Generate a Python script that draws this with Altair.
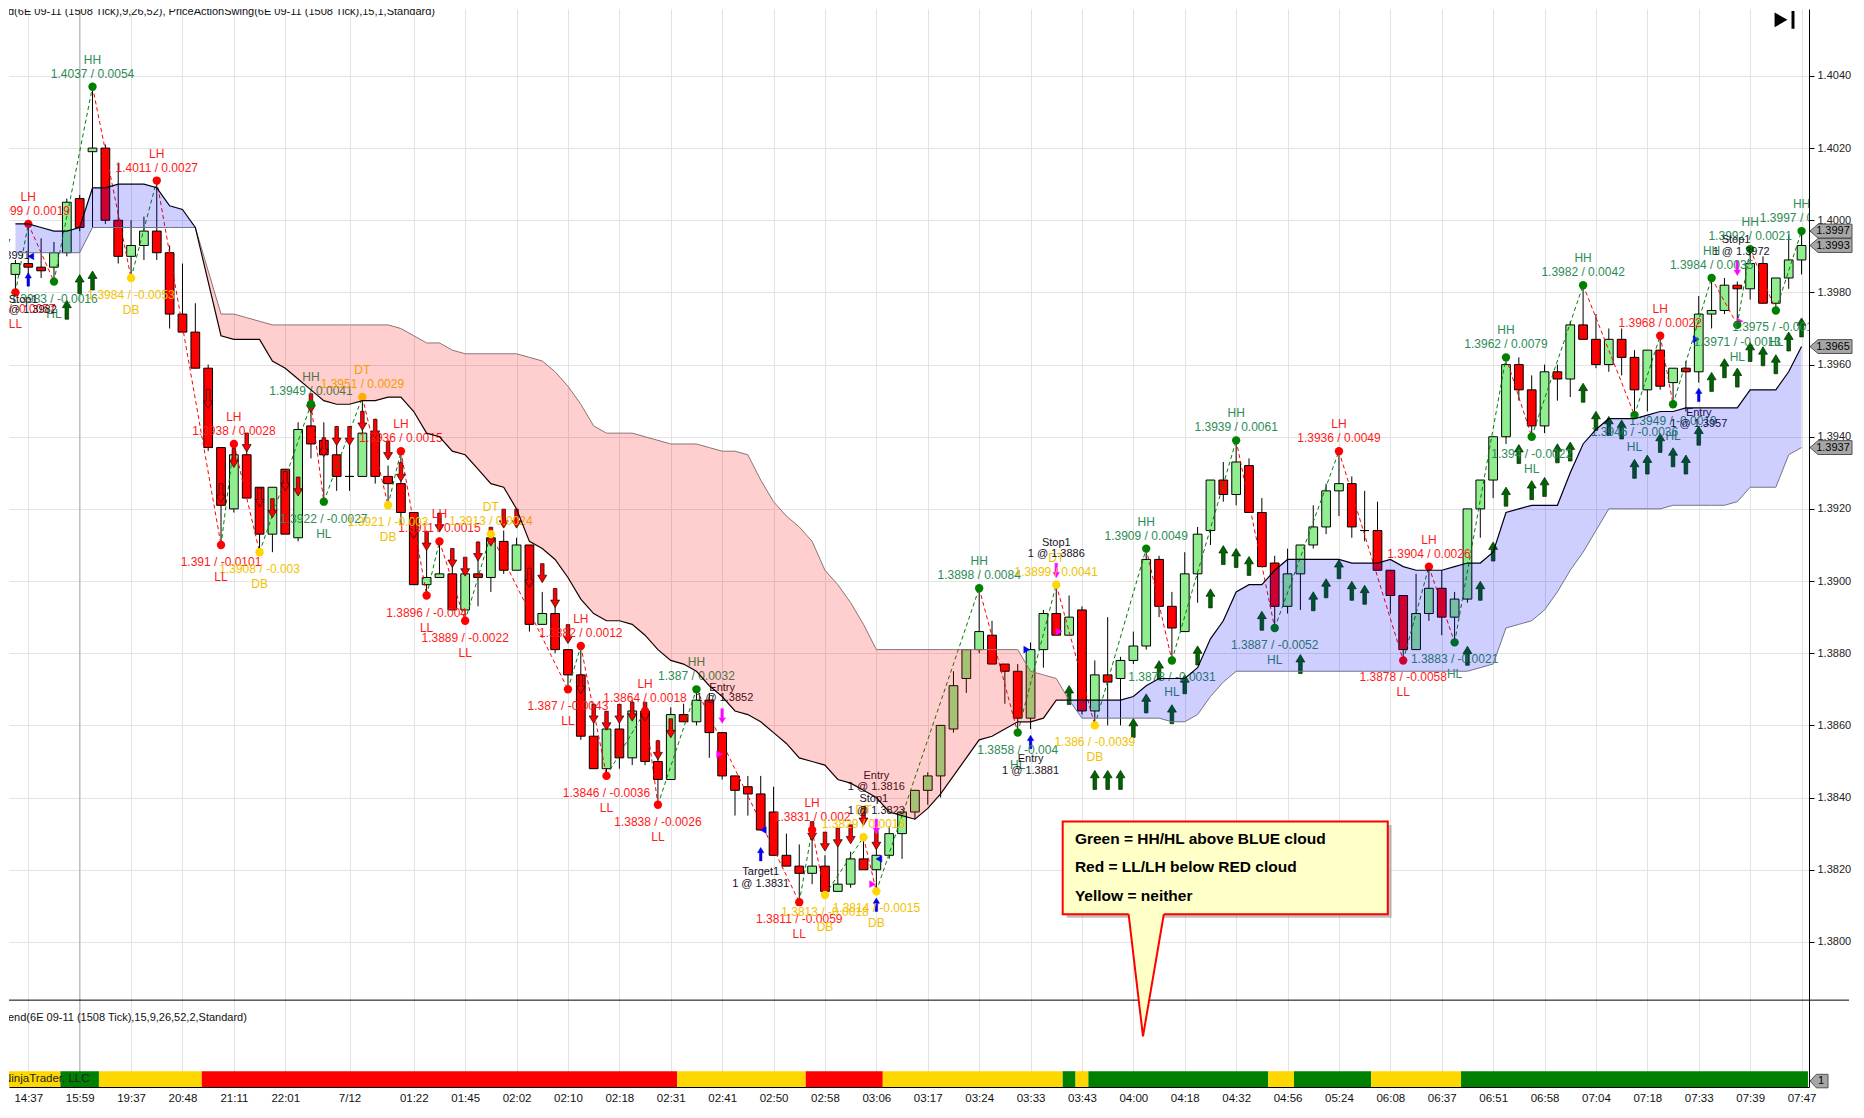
import altair as alt
import pandas as pd

time_labels = ["14:37", "15:59", "19:37", "20:48", "21:11", "22:01", "7/12",
               "01:22", "01:45", "02:02", "02:10", "02:18", "02:31", "02:41",
               "02:50", "02:58", "03:06", "03:17", "03:24", "03:33", "03:43",
               "04:00", "04:18", "04:32", "04:56", "05:24", "06:08", "06:37",
               "06:51", "06:58", "07:04", "07:18", "07:33", "07:39", "07:47"]
label_bars = [1, 5, 9, 13, 17, 21, 26] + list(range(31, 140, 4))
price_ticks = [1.3800, 1.3820, 1.3840, 1.3860, 1.3880, 1.3900, 1.3920,
               1.3940, 1.3960, 1.3980, 1.4000, 1.4020, 1.4040]

opens = [
    1.3985, 1.3988, 1.3987, 1.3987, 1.3991, 1.4006, 1.4019, 1.4020, 1.4000, 1.3990,
    1.3993, 1.3997, 1.3991, 1.3974, 1.3969, 1.3959, 1.3937, 1.3920, 1.3935, 1.3926,
    1.3913, 1.3931, 1.3912, 1.3943, 1.3939, 1.3935, 1.3929, 1.3929, 1.3941, 1.3929,
    1.3927, 1.3919, 1.3899, 1.3901, 1.3902, 1.3892, 1.3902, 1.3901, 1.3911, 1.3903,
    1.3910, 1.3888, 1.3891, 1.3881, 1.3874, 1.3857, 1.3848, 1.3859, 1.3851, 1.3864,
    1.3850, 1.3845, 1.3863, 1.3861, 1.3867, 1.3858, 1.3846, 1.3843, 1.3841, 1.3836,
    1.3824, 1.3821, 1.3819, 1.3821, 1.3814, 1.3816, 1.3823, 1.3820, 1.3824, 1.3830,
    1.3836, 1.3842, 1.3846, 1.3859, 1.3873, 1.3881, 1.3885, 1.3877, 1.3875, 1.3862,
    1.3881, 1.3891, 1.3885, 1.3892, 1.3864, 1.3874, 1.3873, 1.3878, 1.3882, 1.3906,
    1.3893, 1.3886, 1.3902, 1.3914, 1.3928, 1.3924, 1.3932, 1.3919, 1.3905, 1.3893,
    1.3902, 1.3910, 1.3915, 1.3925, 1.3927, 1.3914, 1.3914, 1.3903, 1.3896, 1.3881,
    1.3891, 1.3898, 1.3890, 1.3895, 1.3920, 1.3928, 1.3940, 1.3960, 1.3953, 1.3943,
    1.3958, 1.3956, 1.3971, 1.3967, 1.3960, 1.3967, 1.3962, 1.3953, 1.3964, 1.3955,
    1.3959, 1.3958, 1.3974, 1.3975, 1.3982, 1.3981, 1.3988, 1.3977, 1.3984, 1.3989]
highs = [
    1.3989, 1.3999, 1.3995, 1.3994, 1.4006, 1.4007, 1.4037, 1.4021, 1.4016, 1.4000,
    1.4001, 1.4011, 1.3993, 1.3988, 1.3977, 1.3960, 1.3937, 1.3938, 1.3938, 1.3926,
    1.3926, 1.3931, 1.3944, 1.3949, 1.3944, 1.3943, 1.3943, 1.3951, 1.3945, 1.3932,
    1.3936, 1.3919, 1.3914, 1.3911, 1.3909, 1.3905, 1.3911, 1.3914, 1.3914, 1.3912,
    1.3910, 1.3897, 1.3893, 1.3881, 1.3882, 1.3866, 1.3864, 1.3866, 1.3867, 1.3864,
    1.3856, 1.3865, 1.3866, 1.3870, 1.3869, 1.3858, 1.3846, 1.3846, 1.3846, 1.3843,
    1.3830, 1.3827, 1.3831, 1.3824, 1.3827, 1.3825, 1.3829, 1.3829, 1.3832, 1.3836,
    1.3842, 1.3847, 1.3860, 1.3875, 1.3881, 1.3898, 1.3889, 1.3877, 1.3877, 1.3883,
    1.3892, 1.3899, 1.3896, 1.3893, 1.3878, 1.3890, 1.3879, 1.3886, 1.3909, 1.3907,
    1.3897, 1.3908, 1.3915, 1.3928, 1.3933, 1.3939, 1.3934, 1.3923, 1.3907, 1.3909,
    1.3910, 1.3921, 1.3927, 1.3936, 1.3929, 1.3925, 1.3922, 1.3903, 1.3896, 1.3902,
    1.3904, 1.3903, 1.3897, 1.3920, 1.3928, 1.3940, 1.3962, 1.3962, 1.3957, 1.3960,
    1.3960, 1.3972, 1.3982, 1.3974, 1.3970, 1.3970, 1.3964, 1.3964, 1.3968, 1.3959,
    1.3961, 1.3979, 1.3984, 1.3984, 1.3983, 1.3992, 1.3990, 1.3984, 1.3996, 1.3997]
lows = [
    1.3980, 1.3985, 1.3984, 1.3983, 1.3990, 1.3997, 1.3998, 1.3999, 1.3988, 1.3984,
    1.3989, 1.3989, 1.3970, 1.3969, 1.3959, 1.3936, 1.3910, 1.3919, 1.3923, 1.3908,
    1.3908, 1.3913, 1.3911, 1.3934, 1.3922, 1.3925, 1.3925, 1.3929, 1.3927, 1.3921,
    1.3916, 1.3899, 1.3896, 1.3901, 1.3892, 1.3889, 1.3893, 1.3897, 1.3902, 1.3903,
    1.3886, 1.3888, 1.3880, 1.3870, 1.3856, 1.3848, 1.3846, 1.3848, 1.3849, 1.3849,
    1.3838, 1.3845, 1.3861, 1.3860, 1.3851, 1.3845, 1.3835, 1.3835, 1.3831, 1.3824,
    1.3821, 1.3811, 1.3816, 1.3813, 1.3814, 1.3815, 1.3820, 1.3814, 1.3823, 1.3823,
    1.3834, 1.3838, 1.3840, 1.3858, 1.3869, 1.3880, 1.3877, 1.3866, 1.3858, 1.3859,
    1.3876, 1.3885, 1.3885, 1.3863, 1.3860, 1.3860, 1.3860, 1.3877, 1.3881, 1.3890,
    1.3878, 1.3886, 1.3894, 1.3910, 1.3922, 1.3921, 1.3919, 1.3904, 1.3887, 1.3891,
    1.3892, 1.3909, 1.3913, 1.3918, 1.3912, 1.3911, 1.3903, 1.3891, 1.3878, 1.3881,
    1.3889, 1.3885, 1.3883, 1.3894, 1.3912, 1.3923, 1.3938, 1.3950, 1.3940, 1.3941,
    1.3950, 1.3951, 1.3967, 1.3959, 1.3958, 1.3957, 1.3946, 1.3947, 1.3953, 1.3949,
    1.3947, 1.3955, 1.3970, 1.3974, 1.3971, 1.3978, 1.3977, 1.3975, 1.3981, 1.3985]
closes = [
    1.3988, 1.3987, 1.3986, 1.3991, 1.4005, 1.3998, 1.4020, 1.4000, 1.3990, 1.3993,
    1.3997, 1.3991, 1.3974, 1.3969, 1.3959, 1.3937, 1.3921, 1.3935, 1.3923, 1.3913,
    1.3926, 1.3913, 1.3942, 1.3938, 1.3935, 1.3929, 1.3929, 1.3941, 1.3929, 1.3927,
    1.3919, 1.3899, 1.3901, 1.3902, 1.3892, 1.3902, 1.3901, 1.3912, 1.3903, 1.3910,
    1.3888, 1.3891, 1.3881, 1.3874, 1.3857, 1.3848, 1.3859, 1.3851, 1.3864, 1.3850,
    1.3845, 1.3863, 1.3861, 1.3867, 1.3858, 1.3846, 1.3842, 1.3841, 1.3831, 1.3824,
    1.3821, 1.3819, 1.3821, 1.3814, 1.3816, 1.3823, 1.3820, 1.3824, 1.3830, 1.3836,
    1.3842, 1.3846, 1.3860, 1.3871, 1.3881, 1.3886, 1.3877, 1.3875, 1.3862, 1.3881,
    1.3891, 1.3885, 1.3890, 1.3864, 1.3874, 1.3872, 1.3878, 1.3882, 1.3906, 1.3893,
    1.3887, 1.3902, 1.3913, 1.3928, 1.3924, 1.3933, 1.3919, 1.3904, 1.3893, 1.3902,
    1.3910, 1.3915, 1.3925, 1.3927, 1.3915, 1.3914, 1.3903, 1.3896, 1.3881, 1.3891,
    1.3898, 1.3890, 1.3895, 1.3920, 1.3928, 1.3940, 1.3960, 1.3953, 1.3943, 1.3958,
    1.3956, 1.3971, 1.3967, 1.3960, 1.3967, 1.3962, 1.3953, 1.3964, 1.3954, 1.3959,
    1.3958, 1.3974, 1.3975, 1.3982, 1.3981, 1.3988, 1.3977, 1.3984, 1.3989, 1.3993]

# Ichimoku cloud: span A (black line) and span B (grey line)
span_a = [
    1.3999, 1.3999, 1.3998, 1.3997, 1.3997, 1.3998, 1.4009, 1.4009, 1.4010, 1.4010,
    1.4010, 1.4009, 1.4004, 1.4003, 1.3998, 1.3983, 1.3968, 1.3967, 1.3967, 1.3967,
    1.3961, 1.3959, 1.3956, 1.3953, 1.3950, 1.3949, 1.3949, 1.3950, 1.3950, 1.3951,
    1.3951, 1.3947, 1.3941, 1.3940, 1.3936, 1.3935, 1.3931, 1.3927, 1.3926, 1.3920,
    1.3911, 1.3909, 1.3906, 1.3901, 1.3895, 1.3891, 1.3889, 1.3889, 1.3888, 1.3885,
    1.3881, 1.3878, 1.3877, 1.3875, 1.3871, 1.3868, 1.3864, 1.3863, 1.3861, 1.3858,
    1.3855, 1.3851, 1.3850, 1.3849, 1.3845, 1.3844, 1.3842, 1.3840, 1.3836, 1.3835,
    1.3834, 1.3837, 1.3841, 1.3846, 1.3851, 1.3856, 1.3857, 1.3859, 1.3861, 1.3861,
    1.3862, 1.3867, 1.3867, 1.3867, 1.3867, 1.3867, 1.3867, 1.3868, 1.3871, 1.3873,
    1.3873, 1.3873, 1.3876, 1.3884, 1.3889, 1.3897, 1.3899, 1.3899, 1.3903, 1.3906,
    1.3906, 1.3906, 1.3906, 1.3906, 1.3905, 1.3905, 1.3905, 1.3906, 1.3904, 1.3903,
    1.3903, 1.3903, 1.3904, 1.3905, 1.3905, 1.3908, 1.3919, 1.3920, 1.3921, 1.3921,
    1.3921, 1.3930, 1.3938, 1.3942, 1.3945, 1.3945, 1.3945, 1.3946, 1.3947, 1.3947,
    1.3948, 1.3948, 1.3948, 1.3948, 1.3948, 1.3953, 1.3953, 1.3953, 1.3958, 1.3965]
span_b = [
    1.3991, 1.3991, 1.3991, 1.3991, 1.3991, 1.3991, 1.3998, 1.3998, 1.3998, 1.3998,
    1.3998, 1.3998, 1.3998, 1.3998, 1.3998, 1.3986, 1.3974, 1.3974, 1.3973, 1.3972,
    1.3971, 1.3971, 1.3971, 1.3971, 1.3971, 1.3971, 1.3971, 1.3971, 1.3971, 1.3971,
    1.3970, 1.3968, 1.3966, 1.3966, 1.3964, 1.3963, 1.3963, 1.3963, 1.3963, 1.3963,
    1.3962, 1.3961, 1.3958, 1.3954, 1.3949, 1.3943, 1.3941, 1.3941, 1.3941, 1.3940,
    1.3939, 1.3938, 1.3938, 1.3938, 1.3937, 1.3936, 1.3936, 1.3935, 1.3928, 1.3922,
    1.3918, 1.3915, 1.3911, 1.3903, 1.3899, 1.3894, 1.3888, 1.3881, 1.3881, 1.3881,
    1.3881, 1.3881, 1.3881, 1.3881, 1.3881, 1.3881, 1.3881, 1.3881, 1.3881, 1.3875,
    1.3874, 1.3873, 1.3867, 1.3862, 1.3862, 1.3862, 1.3862, 1.3862, 1.3862, 1.3862,
    1.3861, 1.3861, 1.3863, 1.3868, 1.3872, 1.3875, 1.3875, 1.3875, 1.3875, 1.3875,
    1.3875, 1.3875, 1.3875, 1.3875, 1.3875, 1.3875, 1.3875, 1.3875, 1.3875, 1.3875,
    1.3875, 1.3875, 1.3875, 1.3875, 1.3876, 1.3877, 1.3887, 1.3888, 1.3889, 1.3892,
    1.3897, 1.3903, 1.3908, 1.3914, 1.3920, 1.3920, 1.3920, 1.3920, 1.3920, 1.3921,
    1.3921, 1.3921, 1.3921, 1.3921, 1.3922, 1.3926, 1.3926, 1.3926, 1.3935, 1.3937]

# PriceActionSwing points: (bar, price, type, swing size)
swings = [
    (0, 1.3980, "LL", "-0.0057"), (1, 1.3999, "LH", "0.0019"), (3, 1.3983, "HL", "-0.0016"),
    (6, 1.4037, "HH", "0.0054"), (9, 1.3984, "DB", "-0.0053"), (11, 1.4011, "LH", "0.0027"),
    (16, 1.3910, "LL", "-0.0101"), (17, 1.3938, "LH", "0.0028"), (19, 1.3908, "DB", "-0.003"),
    (23, 1.3949, "HH", "0.0041"), (24, 1.3922, "HL", "-0.0027"), (27, 1.3951, "DT", "0.0029"),
    (29, 1.3921, "DB", "-0.003"), (30, 1.3936, "LH", "0.0015"), (32, 1.3896, "LL", "-0.004"),
    (33, 1.3911, "LH", "0.0015"), (35, 1.3889, "LL", "-0.0022"), (37, 1.3913, "DT", "0.0024"),
    (43, 1.3870, "LL", "-0.0043"), (44, 1.3882, "LH", "0.0012"), (46, 1.3846, "LL", "-0.0036"),
    (49, 1.3864, "LH", "0.0018"), (50, 1.3838, "LL", "-0.0026"), (53, 1.3870, "HH", "0.0032"),
    (61, 1.3811, "LL", "-0.0059"), (62, 1.3831, "LH", "0.002"), (63, 1.3813, "DB", "-0.0018"),
    (66, 1.3829, "DT", "0.0016"), (67, 1.3814, "DB", "-0.0015"), (75, 1.3898, "HH", "0.0084"),
    (78, 1.3858, "HL", "-0.004"), (81, 1.3899, "DT", "0.0041"), (84, 1.3860, "DB", "-0.0039"),
    (88, 1.3909, "HH", "0.0049"), (90, 1.3878, "HL", "-0.0031"), (95, 1.3939, "HH", "0.0061"),
    (98, 1.3887, "HL", "-0.0052"), (103, 1.3936, "LH", "0.0049"), (108, 1.3878, "LL", "-0.0058"),
    (110, 1.3904, "LH", "0.0026"), (112, 1.3883, "HL", "-0.0021"), (116, 1.3962, "HH", "0.0079"),
    (118, 1.3940, "HL", "-0.0022"), (122, 1.3982, "HH", "0.0042"), (126, 1.3946, "HL", "-0.0036"),
    (128, 1.3968, "LH", "0.0022"), (129, 1.3949, "HL", "-0.0019"), (132, 1.3984, "HH", "0.0035"),
    (134, 1.3971, "HL", "-0.0013"), (135, 1.3992, "HH", "0.0021"), (137, 1.3975, "HL", "-0.0017"),
    (139, 1.3997, "HH", "0.0022")]

# signal arrows (bar, price of arrow centre)
green_up = [(4, 1.39752), (5, 1.39823), (6, 1.39833), (82, 1.38684), (84, 1.38449),
            (85, 1.38449), (86, 1.38449), (87, 1.38593), (88, 1.38661), (89, 1.38753),
            (90, 1.38631), (91, 1.38714), (92, 1.38794), (93, 1.38952), (94, 1.39072),
            (95, 1.39064), (96, 1.39042), (97, 1.38890), (100, 1.38770), (101, 1.38944),
            (102, 1.38980), (103, 1.39033), (104, 1.38973), (105, 1.38962), (113, 1.38793),
            (114, 1.38973), (115, 1.39082), (116, 1.39234), (117, 1.39352), (118, 1.39252),
            (119, 1.39261), (120, 1.39354), (121, 1.39359), (122, 1.39522), (123, 1.39444),
            (124, 1.39430), (125, 1.39420), (126, 1.39311), (127, 1.39323), (128, 1.39383),
            (129, 1.39343), (130, 1.39323), (131, 1.39403), (132, 1.39552), (133, 1.39590),
            (134, 1.39564), (135, 1.39635), (136, 1.39623), (137, 1.39601), (138, 1.39664),
            (139, 1.39703)]
red_down = [(15, 1.39505), (16, 1.39244), (17, 1.39341), (18, 1.39384), (19, 1.39232),
            (20, 1.39202), (21, 1.39277), (22, 1.39262), (23, 1.39493), (24, 1.39371),
            (25, 1.39402), (26, 1.39402), (27, 1.39444), (28, 1.39422), (29, 1.39362),
            (30, 1.39302), (31, 1.39144), (32, 1.39111), (33, 1.39162), (34, 1.39064),
            (35, 1.39040), (36, 1.39082), (37, 1.39123), (38, 1.39173), (39, 1.39173),
            (40, 1.39009), (41, 1.39022), (42, 1.38953), (43, 1.38853), (44, 1.38714),
            (45, 1.38632), (46, 1.38613), (47, 1.38632), (48, 1.38638), (49, 1.38638),
            (50, 1.38531), (51, 1.38592), (62, 1.38307), (63, 1.38278), (64, 1.38289),
            (65, 1.38298), (66, 1.38349), (67, 1.38282)]
magenta_down = [(55, 1.38626), (67, 1.38320), (81, 1.39029), (134, 1.39867)]
blue_up = [(1, 1.39836), (58, 1.38243), (67, 1.38103), (79, 1.38554), (131, 1.39516)]
blue_left = [(1.2, 1.3990), (58.2, 1.3831), (67.2, 1.3823)]
blue_right = [(78.7, 1.3881), (130.8, 1.3967)]
magenta_right = [(54.8, 1.3852), (66.7, 1.3816), (81.2, 1.3886), (134.2, 1.3972)]

orders = [("Entry", -1.4, 1.3994), ("1 @ 1.3991", -1.1, 1.3990),
          ("Stop1", 0.6, 1.3978), ("1 @ 1.3982", 1.0, 1.3975),
          ("Entry", 55.0, 1.38705), ("1 @ 1.3852", 55.2, 1.38675),
          ("Target1", 58.0, 1.38194), ("1 @ 1.3831", 58.0, 1.38161),
          ("Entry", 67.0, 1.38460), ("1 @ 1.3816", 67.0, 1.38428),
          ("Stop1", 66.8, 1.38396), ("1 @ 1.3823", 67.0, 1.38364),
          ("Entry", 79.0, 1.38506), ("1 @ 1.3881", 79.0, 1.38474),
          ("Stop1", 81.0, 1.39105), ("1 @ 1.3886", 81.0, 1.39074),
          ("Entry", 131.0, 1.39467), ("1 @ 1.3957", 131.0, 1.39435),
          ("Stop1", 133.9, 1.39946), ("1 @ 1.3972", 134.3, 1.39913)]

# trend panel: runs of (state, number of bars)
trend_runs = [("Y", 4), ("G", 3), ("Y", 8), ("R", 37), ("Y", 10), ("R", 6), ("Y", 14),
              ("G", 1), ("Y", 1), ("G", 14), ("Y", 2), ("G", 6), ("Y", 7), ("G", 27)]

last_tags = [1.3997, 1.3993, 1.3965, 1.3937]

callout_lines = ["Green = HH/HL above BLUE cloud", "Red = LL/LH below RED cloud",
                 "Yellow = neither"]

# ---- layout ----
W, H = 1800, 1078
X_DOM = [-0.5, 139.58]
Y_DOM = [1.375978, 1.405855]
NARROW = "Liberation Sans Narrow, Arial Narrow, Liberation Sans, sans-serif"
FONT = "Liberation Sans, Arial, sans-serif"


def py(ref_row):
    # row of the reference picture -> pixel row in this chart
    return ref_row * H / 1092


vals_js = ",".join(str(v) for v in label_bars)
labs_js = ",".join("'%s'" % t for t in time_labels)
xs = alt.Scale(domain=X_DOM, nice=False, zero=False)
ys = alt.Scale(domain=Y_DOM, nice=False, zero=False)
x_axis = alt.Axis(values=label_bars, labelExpr="[%s][indexof([%s], datum.value)]" % (labs_js, vals_js),
                  grid=True, gridColor="#e3e3e3", ticks=False, domainColor="black",
                  labelFont=NARROW, labelFontSize=11.5, labelColor="#111", labelPadding=5,
                  labelOverlap=False, labelFlush=False, title=None)
y_axis = alt.Axis(orient="right", values=price_ticks, format=".4f", grid=True,
                  gridColor="#e3e3e3", tickColor="black", tickSize=5, domainColor="black",
                  labelFont=FONT, labelFontSize=11, labelColor="#222", labelPadding=3,
                  title=None)


def X(f):
    return alt.X(f, type="quantitative", scale=xs, axis=x_axis)


def Y(f):
    return alt.Y(f, type="quantitative", scale=ys, axis=y_axis)


# candles
bars = pd.DataFrame({"i": range(len(opens)), "o": opens, "h": highs, "l": lows, "c": closes})
bars["lo"] = bars[["o", "c"]].min(axis=1)
bars["hi"] = bars[["o", "c"]].max(axis=1)
bars["col"] = ["#90ee90" if c >= o else "#ff0000" for o, c in zip(opens, closes)]

session = alt.Chart(pd.DataFrame({"i": [5]})).mark_rule(color="#b4b4b4").encode(x=X("i"))
wicks = alt.Chart(bars).mark_rule(color="black", strokeWidth=1).encode(
    x=X("i"), y=Y("l"), y2=alt.Y2("h"))
bodies = alt.Chart(bars).transform_calculate(
    x0="datum.i - 0.34", x1="datum.i + 0.34"
).mark_rect(stroke="black", strokeWidth=1).encode(
    x=X("x0"), x2=alt.X2("x1"), y=Y("lo"), y2=alt.Y2("hi"),
    color=alt.Color("col:N", scale=None))

# cloud: split where span A crosses span B
pts = [(i, a, b) for i, (a, b) in enumerate(zip(span_a, span_b))]
segments, seg = [], [pts[0]]
for p, q in zip(pts[:-1], pts[1:]):
    d0, d1 = round(p[1] - p[2], 6), round(q[1] - q[2], 6)
    if d0 * d1 < 0:
        t = d0 / (d0 - d1)
        yc = p[1] + t * (q[1] - p[1])
        cross = (p[0] + t, yc, yc)
        seg.append(cross)
        segments.append(seg)
        seg = [cross]
    seg.append(q)
    if d1 == 0:
        segments.append(seg)
        seg = [q]
segments.append(seg)
cloud_rows = []
for k, s in enumerate(segments):
    tot = sum(a - b for _, a, b in s)
    if len(s) < 2 or abs(tot) < 1e-9:
        continue
    for x, a, b in s:
        cloud_rows.append({"x": x, "lo": min(a, b), "hi": max(a, b), "seg": k,
                           "fill": "#0000ff" if tot > 0 else "#ff0000"})
cloud = alt.Chart(pd.DataFrame(cloud_rows)).mark_area(opacity=0.19).encode(
    x=X("x"), y=Y("lo"), y2=alt.Y2("hi"), detail="seg:N",
    color=alt.Color("fill:N", scale=None))
spans = pd.DataFrame({"i": range(len(span_a)), "a": span_a, "b": span_b})
line_b = alt.Chart(spans).mark_line(color="#808080", strokeWidth=1).encode(x=X("i"), y=Y("b"))
line_a = alt.Chart(spans).mark_line(color="black", strokeWidth=1.2).encode(x=X("i"), y=Y("a"))

# swings
GREEN, RED, GOLD = "#008000", "#ff0000", "#ffd700"
dot_col = {"HH": GREEN, "HL": GREEN, "LL": RED, "LH": RED, "DT": GOLD, "DB": GOLD}
txt_col = {"HH": "#2e8b57", "HL": "#2e8b57", "LL": "#ff1a1a", "LH": "#ff1a1a",
           "DT": "#f2c200", "DB": "#f2c200"}
sw = pd.DataFrame(swings, columns=["i", "p", "kind", "delta"])
sw["high"] = sw["kind"].isin(["HH", "LH", "DT"])
sw["val"] = [("%.4f" % p).rstrip("0") + " / " + d for p, d in zip(sw["p"], sw["delta"])]
sw["dc"] = sw["kind"].map(dot_col)
sw["tc"] = sw["kind"].map(txt_col)

zz_rows = []
for k in range(len(swings) - 1):
    a, b = swings[k], swings[k + 1]
    up = b[2] in ("HH", "LH", "DT")
    for s in (a, b):
        zz_rows.append({"i": s[0], "p": s[1], "seg": k, "col": GREEN if up else RED})
zigzag = alt.Chart(pd.DataFrame(zz_rows)).mark_line(strokeDash=[4, 3], strokeWidth=1).encode(
    x=X("i"), y=Y("p"), detail="seg:N", color=alt.Color("col:N", scale=None))
dots = alt.Chart(sw).mark_point(filled=True, size=70, opacity=1, shape="circle").encode(
    x=X("i"), y=Y("p"), color=alt.Color("dc:N", scale=None))


def swing_text(high, field, dy):
    return alt.Chart(sw).transform_filter(
        "datum.high" if high else "!datum.high"
    ).mark_text(font=FONT, fontSize=12, dy=dy, clip=True).encode(
        x=X("i"), y=Y("p"), text=field + ":N", color=alt.Color("tc:N", scale=None))


labels = [swing_text(True, "val", -13), swing_text(True, "kind", -27),
          swing_text(False, "val", 17), swing_text(False, "kind", 32)]

# arrows
UP = "M0,-1L0.47,-0.22L0.19,-0.22L0.19,1L-0.19,1L-0.19,-0.22L-0.47,-0.22Z"
DOWN = "M0,1L0.47,0.22L0.19,0.22L0.19,-1L-0.19,-1L-0.19,0.22L-0.47,0.22Z"


def markers(pairs, shape, size, fill, stroke, sw_=0.7):
    df = pd.DataFrame(pairs, columns=["i", "p"])
    return alt.Chart(df).mark_point(shape=shape, size=size, filled=True, fill=fill,
                                    stroke=stroke, strokeWidth=sw_, opacity=1).encode(
        x=X("i"), y=Y("p"))


arrows = [markers(green_up, UP, 361, "#006400", "#002800"),
          markers(red_down, DOWN, 361, "#ff0000", "#200000"),
          markers(magenta_down, DOWN, 225, "#ff00ff", "#ff66ff", 0.5),
          markers(blue_up, UP, 180, "#0000ff", "#0000aa", 0.5),
          markers(blue_left, "triangle-left", 45, "#0000ff", "#0000ff", 0.5),
          markers(blue_right, "triangle-right", 45, "#0000ff", "#0000ff", 0.5),
          markers(magenta_right, "triangle-right", 45, "#ff00ff", "#ff00ff", 0.5)]

notes = alt.Chart(pd.DataFrame(orders, columns=["t", "i", "p"])).mark_text(
    font=FONT, fontSize=11, color="#1a1024", clip=True).encode(x=X("i"), y=Y("p"), text="t:N")

# lower panel (trend colours)
runs, start = [], 0
for state, n in trend_runs:
    runs.append({"x0": start - 0.5, "x1": min(start + n - 0.5, X_DOM[1]),
                 "c": {"Y": "#ffd700", "G": "#008000", "R": "#ff0000"}[state]})
    start += n
band = alt.Chart(pd.DataFrame(runs)).mark_rect().encode(
    x=X("x0"), x2=alt.X2("x1"), y=alt.value(py(1076)), y2=alt.value(H),
    color=alt.Color("c:N", scale=None))
separator = alt.Chart(pd.DataFrame({"a": [0]})).mark_rule(color="black", strokeWidth=1).encode(
    x=alt.value(0), x2=alt.value(W + 40), y=alt.value(py(1004)))


def pix_text(text, x, y, size=11, align="left", font=NARROW, color="#111"):
    return alt.Chart(pd.DataFrame({"t": [text]})).mark_text(
        align=align, baseline="middle", font=font, fontSize=size, color=color, clip=True
    ).encode(x=alt.value(x), y=alt.value(y), text="t:N")


titles = [pix_text("d(6E 09-11 (1508 Tick),9,26,52), PriceActionSwing(6E 09-11 (1508 Tick),15,1,Standard)", -1, py(3)),
          pix_text("end(6E 09-11 (1508 Tick),15,9,26,52,2,Standard)", -1, py(1022)),
          pix_text("NinjaTrader, LLC", -6, py(1084), size=11.5, color="#222")]

# callout box
BX0, BX1, BY0, BY1 = 81.5, 106.8, 1.380767, 1.383338
PX0, PXT, PX1, PYT = 86.63, 87.75, 89.37, 1.377382
shadow = alt.Chart(pd.DataFrame({"x0": [BX0 + 0.3], "x1": [BX1 + 0.3],
                                 "y0": [BY0 - 0.0001], "y1": [BY1 - 0.0001]})).mark_rect(
    color="#8c8c8c", opacity=0.55).encode(x=X("x0"), x2=alt.X2("x1"), y=Y("y0"), y2=alt.Y2("y1"))
box = alt.Chart(pd.DataFrame({"x0": [BX0], "x1": [BX1], "y0": [BY0], "y1": [BY1]})).mark_rect(
    fill="#ffffc8", stroke="#ff0000", strokeWidth=2).encode(
    x=X("x0"), x2=alt.X2("x1"), y=Y("y0"), y2=alt.Y2("y1"))
ptr_df = pd.DataFrame({"x": [PX0, PXT, PX1], "y": [BY0, PYT, BY0], "y2": [BY0 + 0.00009] * 3})
pointer_fill = alt.Chart(ptr_df).mark_area(color="#ffffc8", opacity=1).encode(
    x=X("x"), y=Y("y"), y2=alt.Y2("y2"))
pointer_edge = alt.Chart(ptr_df).mark_line(color="#ff0000", strokeWidth=2).encode(
    x=X("x"), y=Y("y"))
call_df = pd.DataFrame({"t": callout_lines, "i": [82.45] * 3, "p": [1.38285, 1.38207, 1.38128]})
call_text = alt.Chart(call_df).mark_text(
    align="left", baseline="middle", font=FONT, fontSize=15.5, fontWeight="bold", color="black"
).encode(x=X("i"), y=Y("p"), text="t:N")

# last-value tags on the price axis
TAG = "M-1,0L-0.62,-0.33L1,-0.33L1,0.33L-0.62,0.33Z"
tag_df = pd.DataFrame({"p": last_tags, "t": ["%.4f" % v for v in last_tags]})
tags = alt.Chart(tag_df).mark_point(shape=TAG, size=1764, filled=True, fill="#a6a6a6",
                                    stroke="#505050", strokeWidth=1, opacity=1).encode(
    x=alt.value(W + 22), y=Y("p"))
tag_text = alt.Chart(tag_df).mark_text(font=FONT, fontSize=11, color="black", dx=2).encode(
    x=alt.value(W + 22), y=Y("p"), text="t:N")
SMALL_TAG = "M-1,0L-0.3,-0.75L1,-0.75L1,0.75L-0.3,0.75Z"
one_tag = alt.Chart(pd.DataFrame({"t": ["1"]})).mark_point(
    shape=SMALL_TAG, size=324, filled=True, fill="#a6a6a6", stroke="#505050", strokeWidth=1,
    opacity=1).encode(x=alt.value(W + 10), y=alt.value(py(1086)))
one_text = alt.Chart(pd.DataFrame({"t": ["1"]})).mark_text(font=FONT, fontSize=11, dx=2).encode(
    x=alt.value(W + 10), y=alt.value(py(1086)), text="t:N")
icon_tri = alt.Chart(pd.DataFrame({"t": [0]})).mark_point(
    shape="triangle-right", size=220, filled=True, color="black", opacity=1).encode(
    x=alt.value(W - 28), y=alt.value(py(11)))
icon_bar = alt.Chart(pd.DataFrame({"t": [0]})).mark_rule(color="black", strokeWidth=3).encode(
    x=alt.value(W - 16), y=alt.value(py(2)), y2=alt.value(py(20)))

chart = alt.layer(
    session, wicks, bodies, zigzag, *arrows, dots, *labels, notes,
    line_b, line_a, cloud,
    band, separator, *titles,
    shadow, pointer_fill, box, pointer_fill, pointer_edge, call_text,
    tags, tag_text, one_tag, one_text, icon_tri, icon_bar
).properties(width=W, height=H, padding=0).configure_view(stroke=None)

chart.save("out.html", embed_options={"renderer": "svg", "actions": False})
